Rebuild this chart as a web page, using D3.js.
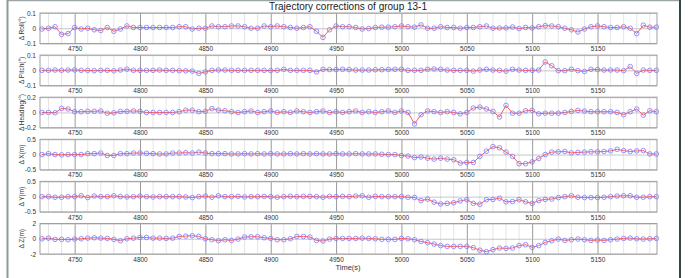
<!DOCTYPE html>
<html>
<head>
<meta charset="utf-8">
<script src="https://cdn.jsdelivr.net/npm/d3@7"></script>
<style>
  body { margin: 0; background: #fff; }
  svg { display: block; font-family: "Liberation Sans", Arial, sans-serif; }
</style>
</head>
<body>
<svg id="fig" width="688" height="278"></svg>
<script>
// sample times (every 5 s)
var time = d3.range(4725, 5196, 5);
var xTicks = [4750, 4800, 4850, 4900, 4950, 5000, 5050, 5100, 5150];

var roll = [-0.005, 0, 0.01, -0.04, -0.035, 0.005, -0.005, 0, -0.01, -0.015,
  0.005, -0.02, -0.005, 0.015, 0.005, 0.005, 0.005, 0.005, 0.005, 0.005,
  0.005, 0.01, 0.01, -0.005, 0, 0, 0.015, 0.01, 0.01, 0.015,
  0.015, 0.01, 0, 0, 0.015, 0.01, 0.015, 0.01, 0.005, 0,
  0.005, 0.01, -0.02, -0.06, -0.01, 0.015, 0.01, 0.01, 0.005, -0.005,
  -0.002, 0.005, 0.007, 0.007, 0.01, 0.015, 0.01, 0.007, 0.022, 0,
  0, 0.01, 0.005, 0.005, 0, 0.005, 0.005, 0.01, 0.015, 0,
  0.002, 0.002, 0.008, -0.002, 0.005, 0.002, 0.01, 0.017, 0.015, 0.01,
  0, -0.01, -0.025, -0.005, 0.01, 0.015, 0.01, 0.005, 0.005, 0.01,
  0, -0.035, 0.02, 0.007, 0.007];

var pitch = [0, 0, 0.002, 0, 0.002, 0.003, 0, 0, -0.002, 0,
  0, -0.003, 0.002, 0.008, 0, 0, 0, 0, 0.002, 0,
  0, -0.002, -0.003, -0.005, -0.02, -0.01, 0, 0.002, 0.002, 0,
  0, 0, 0, 0, 0, -0.002, 0, 0.007, 0, 0,
  0, 0, -0.01, 0.007, 0.005, 0.005, 0.007, 0.005, 0.002, 0.002,
  0.002, 0.004, 0.004, 0.006, 0.007, 0.007, 0, 0, 0, 0.007,
  0.009, 0.007, 0.002, 0, 0, 0, -0.005, 0.002, 0.007, 0.002,
  0, -0.005, 0.007, 0.002, 0, 0, 0.002, 0.055, 0.03, -0.002,
  -0.002, 0.007, -0.002, -0.007, 0.007, 0.005, 0.002, 0.002, 0.002, -0.002,
  0.025, -0.02, 0.002, 0, 0];

var heading = [0, 0, -0.004, 0.053, 0.045, 0.01, 0.01, 0.015, 0.015, 0.02,
  -0.01, -0.005, 0.012, 0.015, 0.02, 0.015, 0, 0, 0, 0,
  0, 0.01, 0.03, 0.03, 0.01, 0.015, 0.05, 0.03, 0.022, 0.01,
  0, 0.01, 0.02, 0, 0.01, 0.02, 0, 0.01, 0, 0.02,
  0.01, 0, 0.01, 0.02, 0, 0.01, 0, 0.01, 0.02, 0,
  0.01, 0, 0.01, 0.02, 0, 0.02, 0, -0.15, -0.03, 0.02,
  0.01, 0, 0.01, 0, -0.018, 0, 0.058, 0.07, 0.045, 0.013,
  -0.06, 0.093, -0.01, -0.01, 0.022, 0.027, -0.018, -0.01, -0.01, -0.01,
  0, 0.013, 0.027, 0.018, 0.01, 0.01, 0.01, 0.01, 0, -0.03,
  0.01, 0.045, -0.035, 0.022, 0.01];

var dX = [0, 0.03, 0, -0.01, 0, 0, 0, 0.03, 0.03, 0.05,
  -0.03, -0.03, 0.03, 0.03, 0.05, 0.05, 0.04, 0.03, 0.02, 0.02,
  0.05, 0.05, 0.06, 0.05, 0.08, 0.05, 0.03, 0.03, 0.03, 0.02,
  0.02, 0.03, 0.02, 0.03, 0.02, 0.03, 0.02, 0.02, 0.03, 0.02,
  0.03, 0.02, 0.03, 0.02, 0.02, 0.03, 0.02, 0.02, 0.03, 0.02,
  0.02, 0.02, 0.01, 0, 0, -0.03, -0.05, -0.1, -0.08, -0.12,
  -0.15, -0.12, -0.15, -0.17, -0.28, -0.26, -0.26, -0.06, 0.11, 0.26,
  0.22, 0.08, -0.06, -0.3, -0.3, -0.24, -0.13, 0, 0.08, 0.09,
  0.1, 0.055, 0.07, 0.08, 0.09, 0.09, 0.1, 0.12, 0.17, 0.13,
  0.1, 0.12, 0.13, 0.02, 0.02];

var dY = [0, 0, -0.02, -0.02, 0, 0, 0.03, -0.03, 0.02, 0,
  0, 0.03, 0, -0.01, 0, 0.02, 0, -0.01, 0, 0,
  0, 0, -0.01, -0.03, 0, 0.02, -0.02, 0.03, 0, 0,
  0.01, -0.01, 0, 0, 0.01, 0, -0.02, 0, 0.01, 0,
  0.01, 0.01, 0, -0.02, 0.01, 0, 0.01, 0, 0.02, 0.03,
  -0.02, 0.01, 0, 0, 0, 0, -0.02, -0.03, -0.13, -0.08,
  -0.18, -0.24, -0.22, -0.2, -0.14, -0.1, -0.22, -0.25, -0.1, -0.09,
  -0.05, -0.17, -0.16, -0.1, -0.17, -0.22, -0.13, -0.09, -0.08, -0.03,
  0, 0.03, -0.02, -0.03, -0.03, -0.03, -0.02, 0, 0.02, 0.03,
  0.03, -0.02, -0.02, 0, 0];

var dZ = [0, 0.08, -0.08, -0.08, -0.13, -0.04, 0, 0.08, 0.13, 0.08,
  0.04, -0.08, -0.26, 0, 0.08, 0.17, 0.17, 0.08, 0.08, 0.04,
  0.08, 0.3, 0.35, 0.4, 0.3, 0, -0.13, -0.26, -0.13, -0.22,
  -0.04, 0.22, 0.26, 0.26, 0.13, 0.04, -0.13, -0.13, 0, 0.3,
  0.3, 0.22, -0.22, -0.3, -0.04, 0.04, 0.04, 0.04, 0.04, 0.08,
  0.04, 0, -0.08, -0.08, -0.08, 0.04, 0, -0.13, -0.35, -0.52,
  -0.7, -0.9, -1.0, -1.0, -1.0, -1.0, -1.17, -1.5, -1.7, -1.43,
  -1.22, -1.26, -1.22, -0.9, -0.78, -1.13, -0.9, -0.48, -0.26, -0.04,
  -0.22, -0.13, -0.04, -0.13, -0.22, -0.17, -0.22, -0.13, -0.04, 0.04,
  0.08, 0, -0.04, 0, 0.04];

var labels = ["\u0394 Roll(\u00b0)", "\u0394 Pitch(\u00b0)", "\u0394 Heading(\u00b0)",
              "\u0394 X(m)", "\u0394 Y(m)", "\u0394 Z(m)"];
var limits = [0.1, 0.1, 0.2, 0.5, 0.5, 2];
var series = [roll, pitch, heading, dX, dY, dZ];

var svg = d3.select("#fig");
var left = 40, right = 657, top0 = 13, step = 42.1, h = 30.5;

// figure frame
svg.append("line").attr("x1", 7).attr("x2", 681).attr("y1", 0.5).attr("y2", 0.5)
  .attr("stroke", "#9aa6a6").attr("stroke-width", 1.5);
svg.append("line").attr("x1", 7.5).attr("x2", 7.5).attr("y1", 0).attr("y2", 278)
  .attr("stroke", "#8d9a9a").attr("stroke-width", 2);
svg.append("line").attr("x1", 680).attr("x2", 680).attr("y1", 0).attr("y2", 278)
  .attr("stroke", "#2f4848").attr("stroke-width", 2);

svg.append("text").attr("x", 348).attr("y", 10).attr("text-anchor", "middle")
  .attr("font-size", 10).attr("fill", "#222").text("Trajectory corrections of group 13-1");

var x = d3.scaleLinear().domain([4723.5, 5195.5]).range([left, right]);
var minor = d3.range(4730, 5195, 10).filter(function(v){ return v % 50 !== 0; });

series.forEach(function(vals, i) {
  var top = top0 + i * step;
  var y = d3.scaleLinear().domain([-limits[i], limits[i]]).range([top + h, top]);
  var g = svg.append("g");

  // minor grid
  g.append("g").selectAll("line").data(minor).join("line")
    .attr("x1", d => x(d)).attr("x2", d => x(d))
    .attr("y1", top).attr("y2", top + h)
    .attr("stroke", "#dedede").attr("stroke-width", 0.8);

  // x axis with major grid
  var xa = g.append("g").attr("transform", "translate(0," + (top + h) + ")")
    .call(d3.axisBottom(x).tickValues(xTicks).tickSize(-h).tickPadding(3)
      .tickFormat(d3.format("d")));
  xa.select(".domain").remove();
  xa.selectAll("line").attr("stroke", "#9a9a9a").attr("stroke-width", 1);
  xa.selectAll("text").attr("font-size", 6.5).attr("fill", "#333")
    .attr("font-family", "Liberation Sans, Arial, sans-serif");

  // y axis with zero line
  var ya = g.append("g").attr("transform", "translate(" + left + ",0)")
    .call(d3.axisLeft(y).tickValues([-limits[i], 0, limits[i]]).tickSize(-(right - left))
      .tickPadding(4).tickFormat(d => d === 0 ? "0" : String(d)));
  ya.select(".domain").remove();
  ya.selectAll("line").attr("stroke", "#b8b8b8").attr("stroke-width", 0.8);
  ya.selectAll("text").attr("font-size", 6.5).attr("fill", "#333")
    .attr("font-family", "Liberation Sans, Arial, sans-serif");

  // box
  g.append("rect").attr("x", left).attr("y", top).attr("width", right - left).attr("height", h)
    .attr("fill", "none").attr("stroke", "#a0a0a0").attr("stroke-width", 1);

  // y label
  g.append("text").attr("transform", "translate(24," + (top + h / 2) + ") rotate(-90)")
    .attr("text-anchor", "middle").attr("font-size", 6.5).attr("fill", "#333").text(labels[i]);

  var pts = time.map((t, k) => [t, vals[k]]);
  g.append("path").datum(pts)
    .attr("fill", "none").attr("stroke", "#ff4b4b").attr("stroke-width", 0.9)
    .attr("d", d3.line().x(d => x(d[0])).y(d => y(d[1])));
  g.append("g").selectAll("circle").data(pts).join("circle")
    .attr("cx", d => x(d[0])).attr("cy", d => y(d[1])).attr("r", 2.3)
    .attr("fill", "none").attr("stroke", "#7a7aff").attr("stroke-width", 0.8);
});

svg.append("text").attr("x", 348).attr("y", 270).attr("text-anchor", "middle")
  .attr("font-size", 7.5).attr("fill", "#333").text("Time(s)");
</script>
</body>
</html>
